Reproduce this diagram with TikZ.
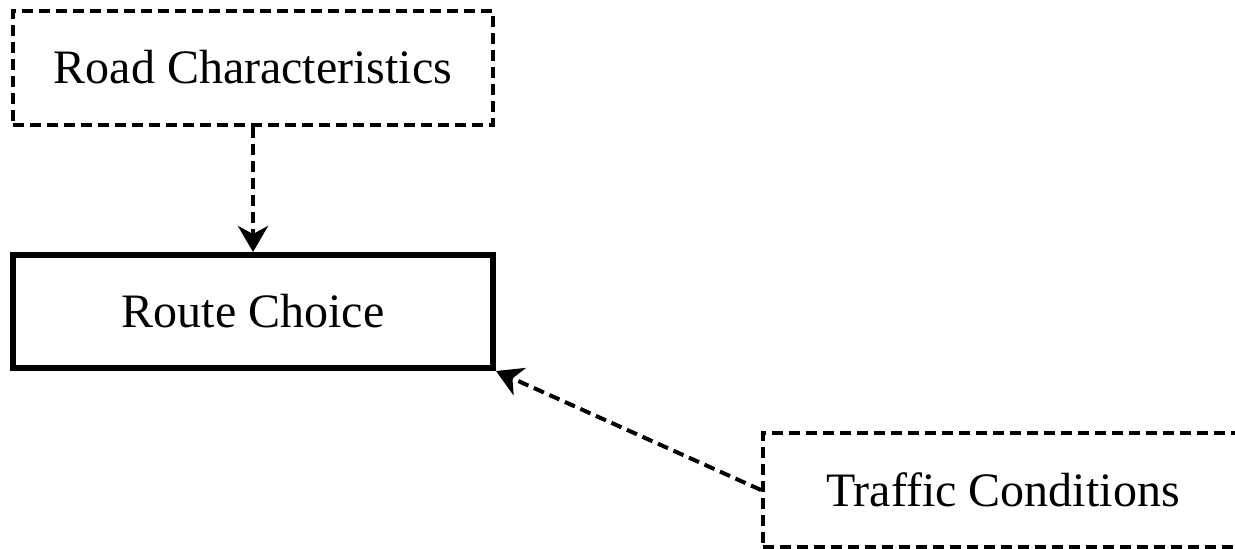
\documentclass[tikz,border=0pt]{standalone}
\usepackage{fontspec}
\setmainfont{Liberation Serif}
\usetikzlibrary{arrows.meta}
\begin{document}
\begin{tikzpicture}[x=1pt,y=-1pt,
  dashbox/.style={draw, line width=4pt, dash pattern=on 11pt off 6pt, minimum width=480pt, minimum height=114pt, inner sep=0pt, font=\fontsize{48}{58}\selectfont},
  solidbox/.style={draw, line width=6pt, minimum width=480pt, minimum height=113pt, inner sep=0pt, font=\fontsize{48}{58}\selectfont},
  conn/.style={line width=4pt, dash pattern=on 11pt off 6pt, -{Stealth[length=26pt,width=30pt,inset=8pt]}}]
\useasboundingbox (0,0) rectangle (1235,549);
\clip (0,0) rectangle (1235,549);
\node[dashbox] (road) at (253,67.5) {Road Characteristics};
\node[solidbox] (route) at (253,311.5) {Route Choice};
\node[dashbox] (traffic) at (1003,490) {Traffic Conditions};
\draw[conn] (road.south) -- (route.north);
\draw[conn] (traffic.west) -- (route.south east);
\end{tikzpicture}
\end{document}
